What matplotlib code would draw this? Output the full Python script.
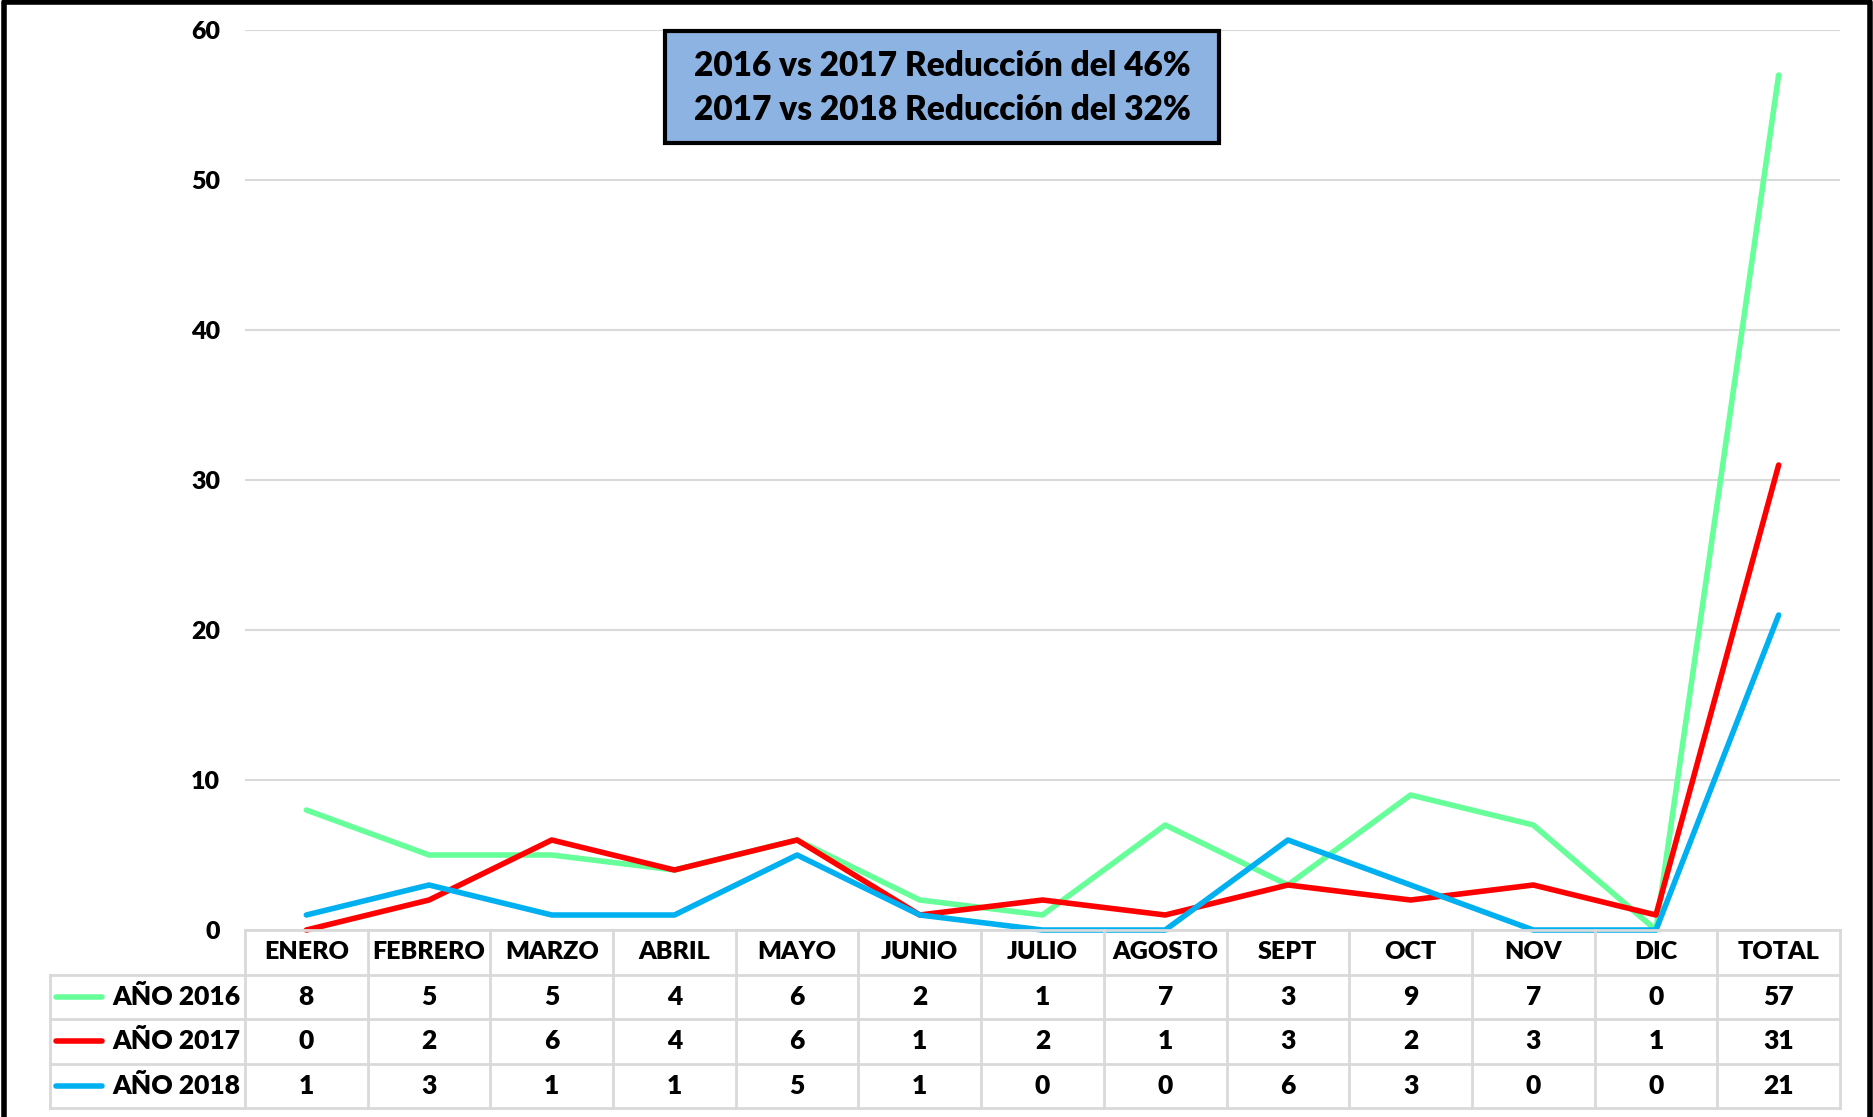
import matplotlib.pyplot as plt
from matplotlib.patches import Rectangle
from matplotlib.lines import Line2D

plt.rcParams['font.family'] = ['Lato', 'DejaVu Sans']
plt.rcParams['font.weight'] = 'heavy'

months = ['ENERO', 'FEBRERO', 'MARZO', 'ABRIL', 'MAYO', 'JUNIO', 'JULIO',
          'AGOSTO', 'SEPT', 'OCT', 'NOV', 'DIC', 'TOTAL']
anio_2016 = [8, 5, 5, 4, 6, 2, 1, 7, 3, 9, 7, 0, 57]
anio_2017 = [0, 2, 6, 4, 6, 1, 2, 1, 3, 2, 3, 1, 31]
anio_2018 = [1, 3, 1, 1, 5, 1, 0, 0, 6, 3, 0, 0, 21]
series_names = ['AÑO 2016', 'AÑO 2017', 'AÑO 2018']
series_colors = ['#66FF99', '#FF0000', '#00B0F0']
title_lines = ['2016 vs 2017 Reducción del 46%', '2017 vs 2018 Reducción del 32%']

W, H = 1874, 1117
fig = plt.figure(figsize=(W / 100, H / 100), dpi=100)
FW = 'heavy'


def box(x0, y0, x1, y1):
    # pixel box (top-left origin) -> figure fraction rect
    return [x0 / W, 1 - y1 / H, (x1 - x0) / W, (y1 - y0) / H]


def fx(x):
    return x / W


def fy(y):
    return 1 - y / H


# main plot
ax = fig.add_axes(box(245, 30, 1840, 930))
x = list(range(len(months)))
for vals, c in zip([anio_2016, anio_2017, anio_2018], series_colors):
    ax.plot(x, vals, color=c, lw=4, solid_joinstyle='round', solid_capstyle='round',
            clip_on=False, zorder=3)
ax.set_xlim(-0.5, len(months) - 0.5)
ax.set_ylim(0, 60)
ax.set_yticks(range(0, 61, 10))
ax.set_xticks([])
ax.tick_params(axis='y', length=0, pad=18, labelsize=18)
for lbl in ax.get_yticklabels():
    lbl.set_fontweight(FW)
ax.grid(axis='y', color='#D9D9D9', lw=1.5)
for s in ax.spines.values():
    s.set_visible(False)

# data table under the plot
label_w = (245 - 50) / ((1840 - 245) / len(months))
tx = fig.add_axes(box(50, 930, 1840, 1108))
tx.set_xlim(-0.5 - label_w, len(months) - 0.5)
tx.set_ylim(4, 0)
tx.axis('off')
gc = '#D9D9D9'
glw = 2
# horizontal lines
tx.plot([-0.5, len(months) - 0.5], [0, 0], color=gc, lw=glw, clip_on=False)
for r in range(1, 5):
    tx.plot([-0.5 - label_w, len(months) - 0.5], [r, r], color=gc, lw=glw, clip_on=False)
# vertical lines
tx.plot([-0.5 - label_w] * 2, [1, 4], color=gc, lw=glw, clip_on=False)
for i in range(len(months) + 1):
    tx.plot([i - 0.5] * 2, [0, 4], color=gc, lw=glw, clip_on=False)

for i, m in enumerate(months):
    tx.text(i, 0.5, m, ha='center', va='center', fontsize=18, fontweight=FW)
for r, (name, vals, c) in enumerate(zip(series_names, [anio_2016, anio_2017, anio_2018],
                                        series_colors)):
    yc = r + 1.5
    for i, v in enumerate(vals):
        tx.text(i, yc, str(v), ha='center', va='center', fontsize=19, fontweight=FW)
    tx.plot([-0.5 - label_w + 0.05, -0.5 - label_w + 0.42], [yc, yc], color=c, lw=4,
            solid_capstyle='round', clip_on=False)
    tx.text(-0.5 - 0.04, yc, name, ha='right', va='center', fontsize=19, fontweight=FW)

# annotation box
fig.patches.append(Rectangle((fx(665), fy(143)), (1219 - 665) / W, (143 - 31) / H,
                             transform=fig.transFigure, facecolor='#8DB3E2',
                             edgecolor='black', lw=3, zorder=5))
for t, yy in zip(title_lines, [66, 110]):
    fig.text(fx(942), fy(yy), t, ha='center', va='center', fontsize=24,
             fontweight=FW, zorder=6)

# outer frame (left, top, right)
fig.lines.append(Line2D([fx(4), fx(4), fx(1870), fx(1870)], [0, fy(2), fy(2), 0],
                        transform=fig.transFigure, color='black', lw=4))

fig.savefig('out.png', dpi=100, facecolor='white')
